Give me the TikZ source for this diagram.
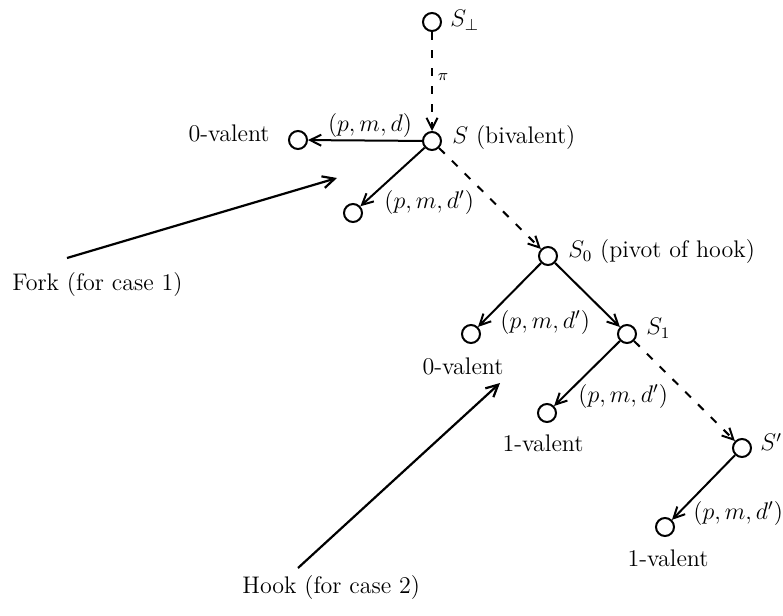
\documentclass[tikz,border=0pt]{standalone}
\usetikzlibrary{arrows.meta}
\begin{document}
\begin{tikzpicture}[x=0.5pt,y=-0.5pt,
  every node/.style={font=\fontsize{12}{14}\selectfont},
  st/.style={circle,draw,line width=1pt,minimum size=9pt,inner sep=0pt},
  txt/.style={inner sep=0pt},
  edge/.style={line width=1pt,-{Straight Barb[length=5.5pt,width=5.5pt]}},
  dedge/.style={edge,dash pattern=on 4pt off 5pt},
  pointer/.style={line width=1.1pt,-{Straight Barb[length=6pt,width=6pt]}}]
\useasboundingbox (0,0) rectangle (783,616);
% states
\node[st] (sb) at (432,22) {};
\node[st] (s) at (432,141) {};
\node[st] (l0) at (298,140) {};
\node[st] (sd) at (353,213) {};
\node[st] (s0) at (548,256) {};
\node[st] (c0) at (471,334) {};
\node[st] (s1) at (627,334) {};
\node[st] (c1) at (547,413) {};
\node[st] (sp) at (742,448) {};
\node[st] (c2) at (665,527) {};
% texts
\node[txt,anchor=west] (tsb) at (450,20) {$S_\perp$};
\node[txt] (tpi) at (443,77) {$\scriptstyle\pi$};
\node[txt,anchor=west] (ts) at (452,138) {$S$ (bivalent)};
\node[txt,anchor=east] (tl0) at (270,133) {0-valent};
\node[txt] (e1) at (370,125) {$(p,m,d)$};
\node[txt,anchor=west] (e2) at (384,202) {$(p,m,d')$};
\node[txt,anchor=west] (ts0) at (568,252) {$S_0$ (pivot of hook)};
\node[txt,anchor=west] (e3) at (500,322) {$(p,m,d')$};
\node[txt] (tc0) at (463,366) {0-valent};
\node[txt,anchor=west] (ts1) at (646,328) {$S_1$};
\node[txt,anchor=west] (e4) at (578,396) {$(p,m,d')$};
\node[txt] (tc1) at (543,443) {1-valent};
\node[txt,anchor=west] (tsp) at (760,442) {$S'$};
\node[txt,anchor=west] (e5) at (693,513) {$(p,m,d')$};
\node[txt] (tc2) at (668,558) {1-valent};
\node[txt,anchor=west] (fork) at (12,285) {Fork (for case 1)};
\node[txt,anchor=west] (hook) at (242,588) {Hook (for case 2)};
% pointer ends
\coordinate (fa) at (67,258);
\coordinate (fb) at (337,178);
\coordinate (ha) at (298,568);
\coordinate (hb) at (500,383);
% edges
\draw[dedge] (sb) -- (s);
\draw[edge] (s) -- (l0);
\draw[edge] (s) -- (sd);
\draw[dedge] (s) -- (s0);
\draw[edge] (s0) -- (c0);
\draw[edge] (s0) -- (s1);
\draw[edge] (s1) -- (c1);
\draw[dedge] (s1) -- (sp);
\draw[edge] (sp) -- (c2);
\draw[pointer] (fa) -- (fb);
\draw[pointer] (ha) -- (hb);
\end{tikzpicture}
\end{document}
